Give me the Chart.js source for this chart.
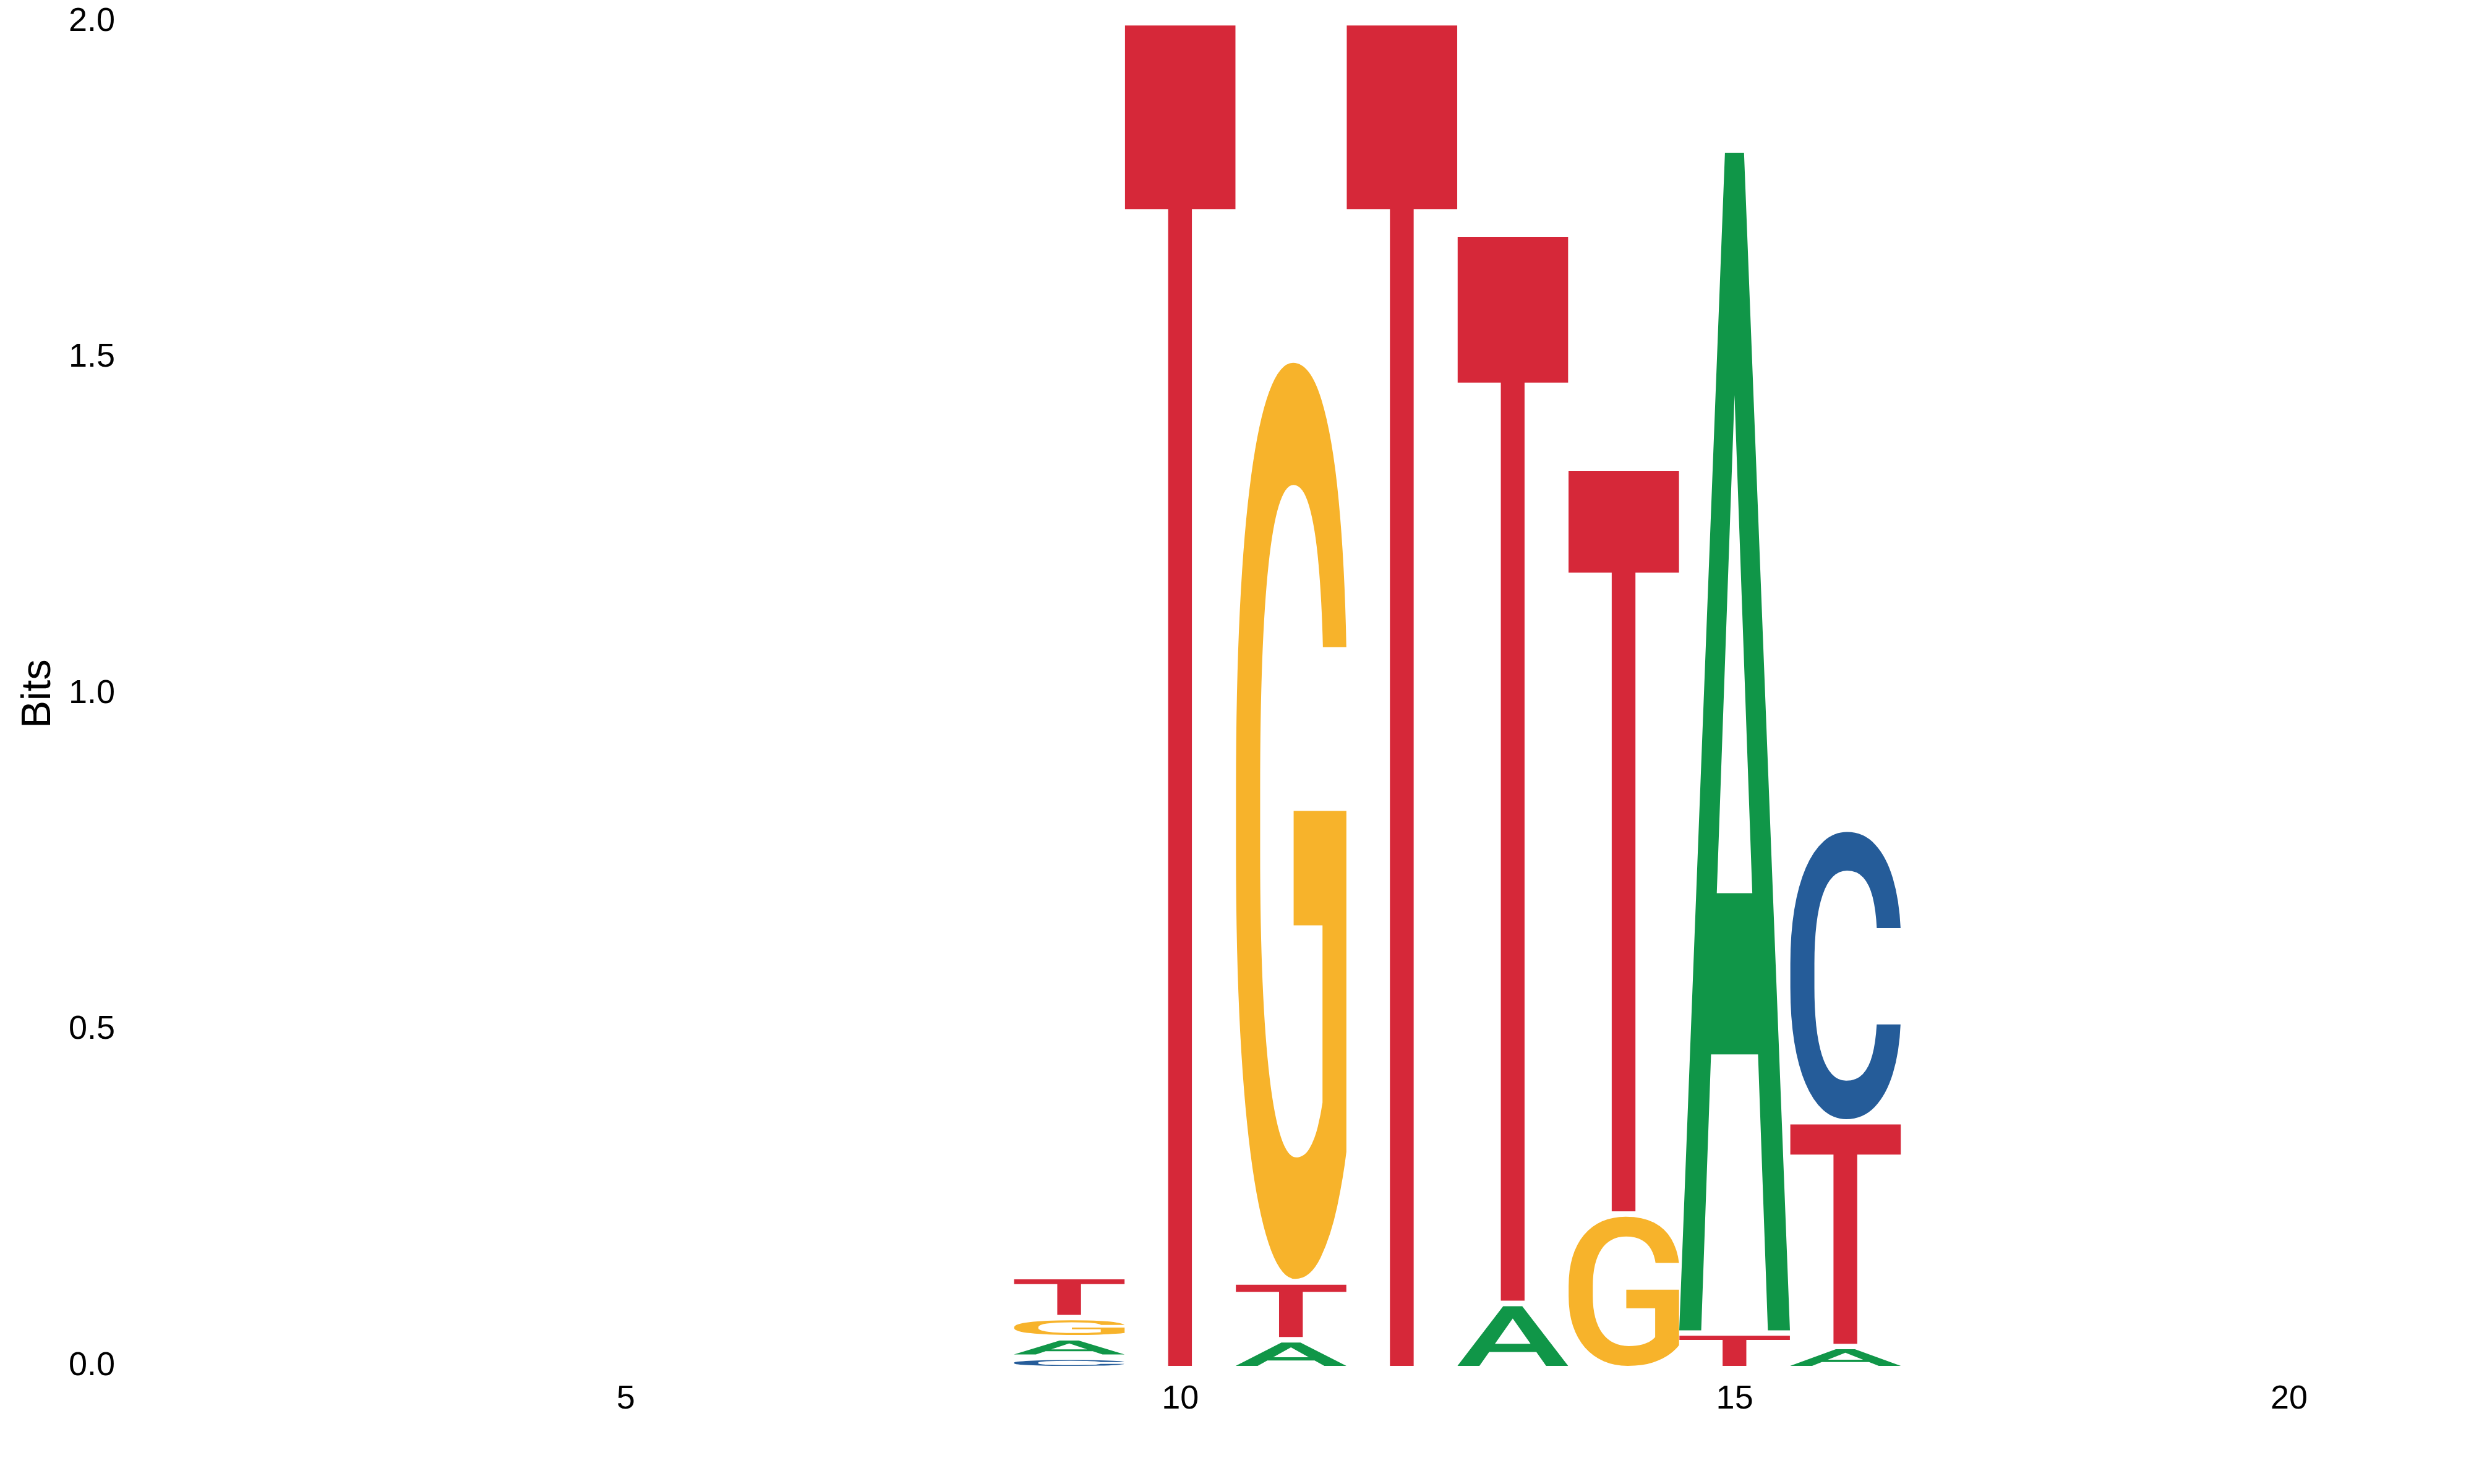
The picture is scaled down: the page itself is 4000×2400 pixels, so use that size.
<!DOCTYPE html>
<html>
<head>
<meta charset="utf-8">
<script src="https://cdn.jsdelivr.net/npm/chart.js@4.4.1/dist/chart.umd.min.js"></script>
<style>
  html, body { margin: 0; padding: 0; background: #fff; }
  #wrap { width: 4000px; height: 2400px; }
</style>
</head>
<body>
<div id="wrap"><canvas id="logoChart" width="4000" height="2400"></canvas></div>
<script>
/* 시퀀스 로고 (bits) */
const positions = ['1', '2', '3', '4', '5', '6', '7', '8', '9', '10', '11',
                   '12', '13', '14', '15', '16', '17', '18', '19', '20', '21'];
const tickPositions = [5, 10, 15, 20];
const yTicks = [0, 0.5, 1.0, 1.5, 2.0];

// 염기별 정보량
const bitsA = [0, 0, 0, 0, 0, 0, 0, 0, 0.029, 0, 0.043, 0, 0.097, 0, 1.758, 0.033, 0, 0, 0, 0, 0];
const bitsC = [0, 0, 0, 0, 0, 0, 0, 0, 0.017, 0, 0, 0, 0, 0, 0, 0.435, 0, 0, 0, 0, 0];
const bitsG = [0, 0, 0, 0, 0, 0, 0, 0, 0.030, 0, 1.370, 0, 0, 0.230, 0, 0, 0, 0, 0, 0, 0];
const bitsT = [0, 0, 0, 0, 0, 0, 0, 0, 0.061, 2.0, 0.086, 2.0, 1.589, 1.108, 0.053, 0.334, 0, 0, 0, 0, 0];

const letterColors = { A: '#109648', C: '#255C99', G: '#F7B32B', T: '#D62839' };
const glyphFont = '500 400px Roboto';

// 위치마다 작은 값이 아래로 가도록 순위별 데이터셋 생성
const perLetter = { A: bitsA, C: bitsC, G: bitsG, T: bitsT };
let datasets = [];
for (let r = 0; r < 4; r++) {
    datasets.push({
        label: 'rank' + r,
        data: [],
        letters: [],
        backgroundColor: 'rgba(0,0,0,0)',
        borderWidth: 0,
        categoryPercentage: 1.0,
        barPercentage: 1.0
    });
}
for (let i = 0; i < positions.length; i++) {
    let col = Object.keys(perLetter).map(k => ({ ch: k, v: perLetter[k][i] }));
    col.sort((a, b) => a.v - b.v);
    for (let r = 0; r < 4; r++) {
        datasets[r].data.push(col[r].v);
        datasets[r].letters.push(col[r].v > 0 ? col[r].ch : null);
    }
}

// 글자 잉크 영역을 픽셀로 측정
let inkBoxes = {};
function measureInk(ch) {
    if (inkBoxes[ch]) return inkBoxes[ch];
    let c = document.createElement('canvas');
    c.width = 700; c.height = 700;
    let g = c.getContext('2d');
    g.font = glyphFont;
    g.textAlign = 'left';
    g.textBaseline = 'alphabetic';
    g.fillStyle = '#000';
    g.fillText(ch, 150, 500);
    let px = g.getImageData(0, 0, 700, 700).data;
    let minX = 700, minY = 700, maxX = -1, maxY = -1;
    for (let y = 0; y < 700; y++) {
        for (let x = 0; x < 700; x++) {
            if (px[(y * 700 + x) * 4 + 3] > 127) {
                if (x < minX) minX = x;
                if (x > maxX) maxX = x;
                if (y < minY) minY = y;
                if (y > maxY) maxY = y;
            }
        }
    }
    inkBoxes[ch] = { left: minX - 150, top: minY - 500, w: maxX - minX + 1, h: maxY - minY + 1 };
    return inkBoxes[ch];
}

function drawGlyph(ctx, ch, x, y, w, h, color) {
    let b = measureInk(ch);
    ctx.save();
    ctx.font = glyphFont;
    ctx.textAlign = 'left';
    ctx.textBaseline = 'alphabetic';
    ctx.translate(x, y);
    ctx.scale(w / b.w, h / b.h);
    ctx.fillStyle = color;
    ctx.fillText(ch, -b.left, -b.top);
    ctx.restore();
}

// 막대 자리에 글자 그리기
const letterPlugin = {
    id: 'letters',
    afterDatasetsDraw(chart) {
        const ctx = chart.ctx;
        const gap = 9;
        chart.data.datasets.forEach((ds, di) => {
            const meta = chart.getDatasetMeta(di);
            meta.data.forEach((bar, i) => {
                const ch = ds.letters[i];
                if (!ch) return;
                const p = bar.getProps(['x', 'y', 'base', 'width'], true);
                const top = Math.min(p.y, p.base) + gap;
                const bottom = Math.max(p.y, p.base);
                if (bottom - top <= 0) return;
                drawGlyph(ctx, ch, p.x - p.width / 2 + 0.5, top, p.width - 1, bottom - top, letterColors[ch]);
            });
        });
    }
};

function build() {
    let ctx = document.getElementById('logoChart').getContext('2d');
    let logoChart = new Chart(ctx, {
        type: 'bar',
        data: {
            labels: positions,
            datasets: datasets
        },
        options: {
            responsive: false,
            animation: false,
            devicePixelRatio: 1,
            layout: {
                padding: { top: 35, right: 30, bottom: 0, left: 0 }
            },
            plugins: {
                legend: { display: false },
                tooltip: { enabled: false }
            },
            scales: {
                x: {
                    stacked: true,
                    grid: { display: false, drawTicks: false },
                    border: { display: false },
                    afterFit: function (s) { s.height = 191; },
                    ticks: {
                        autoSkip: false,
                        maxRotation: 0,
                        padding: 22,
                        color: '#000',
                        font: { family: 'Liberation Sans', size: 54 },
                        callback: function (v, idx) {
                            return tickPositions.includes(idx + 1) ? String(idx + 1) : '';
                        }
                    }
                },
                y: {
                    stacked: true,
                    min: 0,
                    max: 2,
                    grid: { display: false, drawTicks: false },
                    border: { display: false },
                    afterFit: function (s) {
                        s.width = 205;
                        s.paddingTop = 0;
                        s.paddingBottom = 0;
                    },
                    afterBuildTicks: function (s) { s.ticks = yTicks.map(v => ({ value: v })); },
                    ticks: {
                        padding: 19,
                        color: '#000',
                        font: { family: 'Liberation Sans', size: 54 },
                        callback: function (v) { return Number(v).toFixed(1); }
                    },
                    title: {
                        display: true,
                        text: 'Bits',
                        color: '#000',
                        padding: { top: 22, bottom: 0 },
                        font: { family: 'Liberation Sans', size: 67 }
                    }
                }
            }
        },
        plugins: [letterPlugin]
    });
}

if (document.fonts && document.fonts.load) {
    Promise.all([
        document.fonts.load(glyphFont),
        document.fonts.load('54px "Liberation Sans"')
    ]).then(build, build);
} else {
    build();
}
</script>
</body>
</html>
